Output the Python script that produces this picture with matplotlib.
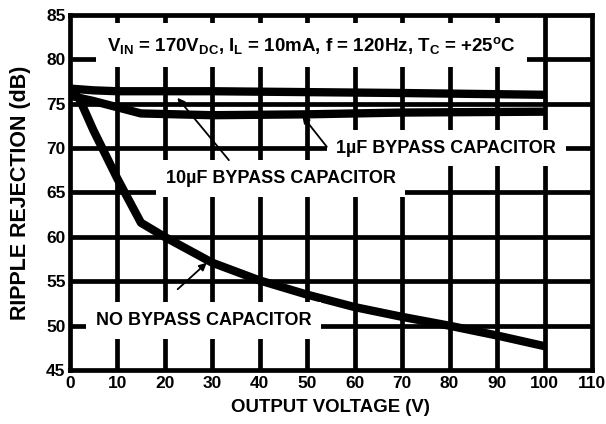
import matplotlib.pyplot as plt

plt.rcParams['font.family'] = ['Liberation Sans', 'DejaVu Sans']
plt.rcParams['font.weight'] = 'bold'
plt.rcParams['mathtext.fontset'] = 'custom'
plt.rcParams['mathtext.rm'] = 'Liberation Sans:bold'
plt.rcParams['mathtext.it'] = 'Liberation Sans:bold'
plt.rcParams['mathtext.bf'] = 'Liberation Sans:bold'

# data
v_10uf = [0, 5, 10, 30, 50, 70, 100]
rr_10uf = [76.7, 76.5, 76.4, 76.4, 76.3, 76.2, 76.0]

v_1uf = [0, 5, 10, 15, 30, 50, 70, 100]
rr_1uf = [75.9, 75.3, 74.6, 73.9, 73.7, 73.8, 74.0, 74.1]

v_none = [0, 2, 5, 10, 15, 20, 30, 40, 50, 60, 70, 80, 90, 100]
rr_none = [76.6, 75.6, 72.0, 66.6, 61.6, 60.0, 57.1, 55.1, 53.5, 52.1, 51.0, 50.0, 48.9, 47.7]

x_ticks = list(range(0, 111, 10))
y_ticks = list(range(45, 86, 5))

fig, ax = plt.subplots(figsize=(6.06, 4.24), dpi=100)
fig.subplots_adjust(left=0.115, right=0.977, top=0.965, bottom=0.127)

for x in x_ticks[1:-1]:
    ax.axvline(x, color='black', lw=3.4, zorder=1)
for y in y_ticks[1:-1]:
    ax.axhline(y, color='black', lw=3.4, zorder=1)

for xs, ys in [(v_10uf, rr_10uf), (v_1uf, rr_1uf), (v_none, rr_none)]:
    ax.plot(xs, ys, color='black', lw=6, zorder=3, solid_capstyle='butt')

box = dict(facecolor='white', edgecolor='none', pad=7)
ax.text(51.0, 81.6, r'V$_{\mathrm{IN}}$ = 170V$_{\mathrm{DC}}$, I$_{\mathrm{L}}$ = 10mA, f = 120Hz, T$_{\mathrm{C}}$ = +25$^{\mathrm{o}}$C',
        ha='center', va='center', fontsize=13.5, bbox=dict(facecolor='white', edgecolor='none', pad=8), zorder=5)
ax.text(44.4, 66.6, '10µF BYPASS CAPACITOR', ha='center', va='center', fontsize=13, bbox=box, zorder=5)
ax.text(79.3, 70.0, '1µF BYPASS CAPACITOR', ha='center', va='center', fontsize=13, bbox=box, zorder=5)
ax.text(28.2, 50.6, 'NO BYPASS CAPACITOR', ha='center', va='center', fontsize=13, bbox=box, zorder=5)

arrow = dict(arrowstyle='-|>', color='black', lw=1.3, mutation_scale=11)
ax.annotate('', xy=(22.3, 75.9), xytext=(33.9, 68.4), arrowprops=arrow, zorder=6)
ax.annotate('', xy=(48.6, 73.9), xytext=(54.5, 69.9), arrowprops=arrow, zorder=6)
ax.annotate('', xy=(29.3, 57.3), xytext=(22.3, 53.9), arrowprops=arrow, zorder=6)

ax.set_xlim(0, 110)
ax.set_ylim(45, 85)
ax.set_xticks(x_ticks)
ax.set_yticks(y_ticks)
ax.tick_params(axis='y', length=0, labelsize=12.5, pad=3)
ax.tick_params(axis='x', length=0, labelsize=12.5, pad=4)
for lab in ax.get_xticklabels() + ax.get_yticklabels():
    lab.set_fontweight('bold')
for s in ax.spines.values():
    s.set_linewidth(3.4)
ax.set_xlabel('OUTPUT VOLTAGE (V)', fontsize=13.4, fontweight='bold', labelpad=6)
ax.set_ylabel('RIPPLE REJECTION (dB)', fontsize=15.5, fontweight='bold', labelpad=11)

fig.savefig('out.png', dpi=100)
